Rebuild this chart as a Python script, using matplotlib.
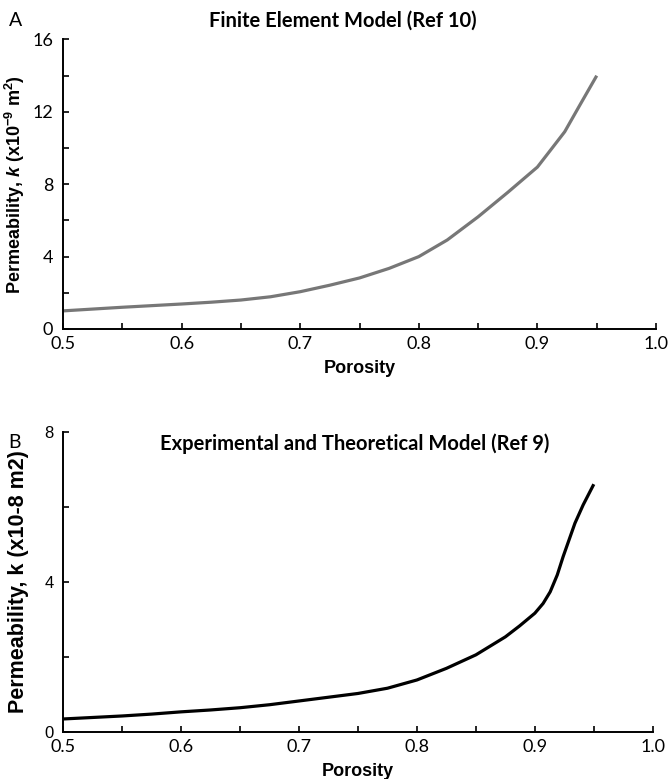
import matplotlib
matplotlib.use("Agg")
import matplotlib.pyplot as plt
import numpy as np

plt.rcParams['mathtext.fontset'] = 'custom'
plt.rcParams['mathtext.rm'] = 'Liberation Sans:bold'
plt.rcParams['mathtext.it'] = 'Liberation Sans:bold:italic'
plt.rcParams['mathtext.bf'] = 'Liberation Sans:bold'

# panel A - finite element model (Ref 10)
por_a = [0.5, 0.525, 0.55, 0.575, 0.6, 0.625, 0.65, 0.675, 0.7, 0.725,
         0.75, 0.775, 0.8, 0.824, 0.85, 0.875, 0.9, 0.913, 0.923, 0.936, 0.95]
perm_a = [1.0, 1.1, 1.2, 1.29, 1.38, 1.48, 1.6, 1.78, 2.06, 2.42,
          2.82, 3.35, 4.0, 4.92, 6.2, 7.55, 8.95, 10.05, 10.9, 12.4, 14.0]

# panel B - experimental and theoretical model (Ref 9)
por_b = [0.5, 0.525, 0.55, 0.575, 0.6, 0.625, 0.65, 0.675, 0.7, 0.725,
         0.75, 0.775, 0.8, 0.825, 0.85, 0.875, 0.887, 0.9, 0.907, 0.913,
         0.919, 0.924, 0.934, 0.941, 0.95]
perm_b = [0.34, 0.38, 0.42, 0.47, 0.53, 0.58, 0.64, 0.72, 0.82, 0.92,
          1.02, 1.16, 1.38, 1.69, 2.05, 2.53, 2.82, 3.16, 3.42, 3.73,
          4.18, 4.67, 5.56, 6.05, 6.6]

x_ticks = [0.5, 0.6, 0.7, 0.8, 0.9, 1.0]
x_labels = ['0.5', '0.6', '0.7', '0.8', '0.9', '1.0']
ya_ticks = [0, 4, 8, 12, 16]
yb_ticks = [0, 4, 8]

fig = plt.figure(figsize=(6.69, 7.79), dpi=100)
ax1 = fig.add_axes([0.0942, 0.5777, 0.8864, 0.3716])
ax2 = fig.add_axes([0.0946, 0.0607, 0.8811, 0.3851])


def style_axes(ax, ymax, yticks, yminor, ytick_font, ytick_size):
    for s in ['top', 'right']:
        ax.spines[s].set_visible(False)
    for s in ['left', 'bottom']:
        ax.spines[s].set_linewidth(1.4)
    ax.set_xlim(0.5, 1.0)
    ax.set_ylim(0, ymax)
    ax.set_xticks(x_ticks)
    ax.set_xticklabels(x_labels, family='Lato', fontsize=13)
    ax.set_xticks(np.arange(0.55, 1.0, 0.1), minor=True)
    ax.set_yticks(yticks)
    ax.set_yticklabels([str(t) for t in yticks], family=ytick_font, fontsize=ytick_size)
    ax.set_yticks(yminor, minor=True)
    ax.tick_params(which='both', direction='in', length=4, width=1.2)
    ax.tick_params(axis='x', pad=5)
    ax.tick_params(axis='y', pad=7)


ax1.plot(por_a, perm_a, color='#777777', lw=2.3, solid_capstyle='butt')
style_axes(ax1, 16, ya_ticks, [2, 6, 10, 14], 'Lato', 13)
ax1.set_xlabel('Porosity', family='Liberation Sans', fontweight='bold', fontsize=13, labelpad=6)
ax1.set_ylabel(r'Permeability, $\mathit{k}$ (x10$^{\mathrm{-9}}$ m$^{\mathrm{2}}$)',
               family='Liberation Sans', fontweight='bold', fontsize=13)

ax2.plot(por_b, perm_b, color='black', lw=2.3, solid_capstyle='butt')
style_axes(ax2, 8, yb_ticks, [2, 6], 'Liberation Sans', 12)
ax2.set_xlabel('Porosity', family='Liberation Sans', fontweight='bold', fontsize=13, labelpad=6)
ax2.set_ylabel('Permeability, k (x10-8 m2)', family='Liberation Sans',
               fontweight='bold', fontsize=15.5)

fig.text(0.513, 0.974, 'Finite Element Model (Ref 10)', ha='center', va='center',
         family='Lato', fontweight='bold', fontsize=14.5)
fig.text(0.530, 0.431, 'Experimental and Theoretical Model (Ref 9)', ha='center', va='center',
         family='Lato', fontweight='bold', fontsize=14.5)
fig.text(0.013, 0.974, 'A', ha='left', va='center', family='Lato', fontsize=14)
fig.text(0.013, 0.432, 'B', ha='left', va='center', family='Lato', fontsize=14)

ax1.yaxis.set_label_coords(-0.061, 0.5)
ax2.yaxis.set_label_coords(-0.058, 0.5)

fig.savefig('out.png', dpi=100)
